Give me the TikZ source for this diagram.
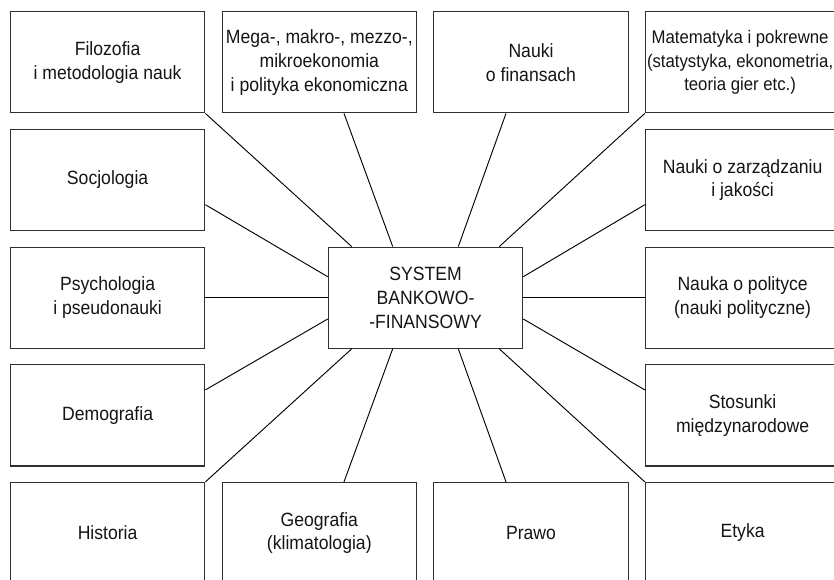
\documentclass[tikz,border=0pt]{standalone}
\usepackage{fontspec}
\setmainfont{Liberation Sans}
\newfontfamily\boxfont[FakeStretch=0.917]{Liberation Sans}
\usetikzlibrary{calc}
\definecolor{boxline}{HTML}{303030}
\definecolor{txt}{HTML}{151515}
\tikzset{
  box/.style={draw=boxline, line width=0.9pt, fill=white, minimum width=145.8pt, minimum height=75.8pt,
    inner sep=0pt, align=center, text=txt, font=\boxfont\fontsize{14.4pt}{17.8pt}\selectfont},
  narrowtext/.style={inner sep=0pt, align=center, text=txt, font=\boxfont\fontsize{13.7pt}{17.8pt}\selectfont},
  link/.style={draw=black, line width=0.7pt}
}
\begin{document}
\begin{tikzpicture}[x=0.75pt,y=-0.75pt]
\useasboundingbox (0,0) rectangle (834,579);
\fill[white] (0,0) rectangle (834,579);
\clip (0,0) rectangle (834,579);
\def\cA{107.6}\def\cB{319.3}\def\cC{531.0}\def\cD{742.6}
\def\rA{62.3}\def\rB{180.0}\def\rC{297.7}\def\rD{415.4}\def\rE{533.0}
% boxes
\node[box] (c) at (425.5,\rC) {SYSTEM\\BANKOWO-\\-FINANSOWY};
\node[box] (fil) at (\cA,\rA) {Filozofia\\i metodologia nauk};
\node[box] (mega) at (\cB,\rA) {Mega-, makro-, mezzo-,\\mikroekonomia\\i polityka ekonomiczna};
\node[box] (fin) at (\cC,\rA) {Nauki\\o finansach};
\node[box] (mat) at (\cD,\rA) {};
\node[narrowtext] (matt) at ($(mat.center)+(-2.5,0)$) {Matematyka i pokrewne\\(statystyka, ekonometria,\\teoria gier etc.)};
\node[box] (soc) at (\cA,\rB) {Socjologia};
\node[box] (zar) at (\cD,\rB) {Nauki o zarządzaniu\\i jakości};
\node[box] (psy) at (\cA,\rC) {Psychologia\\i pseudonauki};
\node[box] (pol) at (\cD,\rC) {Nauka o polityce\\(nauki polityczne)};
\node[box] (dem) at (\cA,\rD) {Demografia};
\node[box] (sto) at (\cD,\rD) {Stosunki\\międzynarodowe};
\node[box] (his) at (\cA,\rE) {Historia};
\node[box] (geo) at (\cB,\rE) {Geografia\\(klimatologia)};
\node[box] (pra) at (\cC,\rE) {Prawo};
\node[box] (ety) at (\cD,\rE) {Etyka};
% connectors
\draw[link] (fil.south east) -- ($(c.north west)+(24,0)$);
\draw[link] ($(mega.south)+(24.7,0)$) -- ($(c.north)+(-32.8,0)$);
\draw[link] ($(fin.south)+(-25,0)$) -- ($(c.north)+(32.8,0)$);
\draw[link] (mat.south west) -- ($(c.north east)+(-24,0)$);
\draw[link] ($(soc.east)+(0,24.7)$) -- ($(c.west)+(0,-21)$);
\draw[link] (psy.east) -- (c.west);
\draw[link] ($(dem.east)+(0,-25.5)$) -- ($(c.west)+(0,21.3)$);
\draw[link] (his.north east) -- ($(c.south west)+(24,0)$);
\draw[link] ($(geo.north)+(24.7,0)$) -- ($(c.south)+(-32.8,0)$);
\draw[link] ($(pra.north)+(-25,0)$) -- ($(c.south)+(32.8,0)$);
\draw[link] (ety.north west) -- ($(c.south east)+(-24,0)$);
\draw[link] ($(zar.west)+(0,24.7)$) -- ($(c.east)+(0,-21)$);
\draw[link] (pol.west) -- (c.east);
\draw[link] ($(sto.west)+(0,-25.5)$) -- ($(c.east)+(0,21.3)$);
\end{tikzpicture}
\end{document}
